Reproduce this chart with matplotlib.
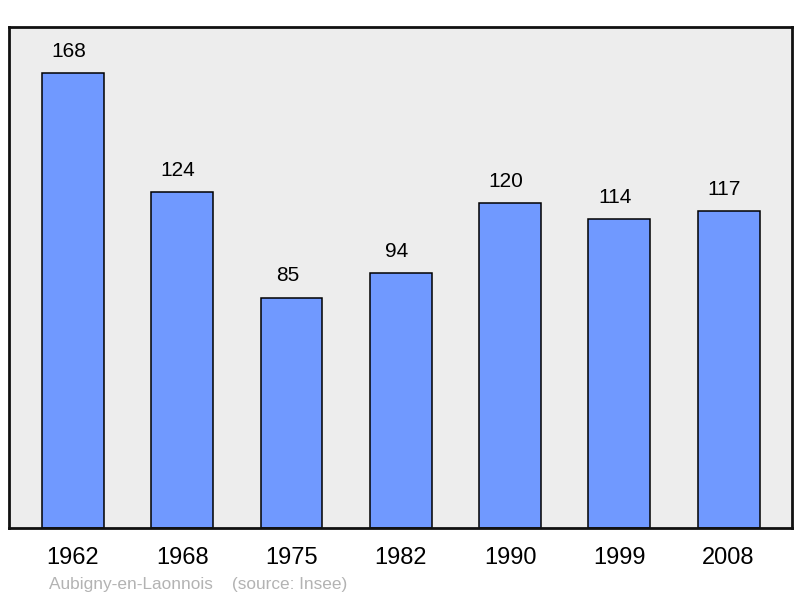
import matplotlib.pyplot as plt
import numpy as np

plt.rcParams['font.family'] = ['Liberation Sans', 'DejaVu Sans']

# data
years = ['1962', '1968', '1975', '1982', '1990', '1999', '2008']
population = [168, 124, 85, 94, 120, 114, 117]

fig = plt.figure(figsize=(8, 5.98), dpi=100)
ax = fig.add_axes([9/800, 1 - 528/598, 783/800, 501/598])
ax.set_facecolor('#ededed')

x = np.arange(len(years))
ax.bar(x, population, width=0.567, color='#7099ff', edgecolor='black', linewidth=1.1, zorder=2)

# value labels sit a little left of the bar centre in the original
for xi, v in zip(x, population):
    ax.annotate(str(v), (xi, v), xytext=(-3, 9), textcoords='offset points',
                ha='center', va='bottom', fontsize=15)

ax.set_xlim(-0.585, len(years) - 1 + 0.58)
ax.set_ylim(0, 185)
ax.set_xticks(x)
ax.set_xticklabels(years, fontsize=17)
ax.tick_params(axis='x', length=0, pad=14)
ax.set_yticks([])
for s in ax.spines.values():
    s.set_linewidth(2)
    s.set_color('#111111')

fig.text(49/800, 1 - 584/598, 'Aubigny-en-Laonnois    (source: Insee)',
         color='#b3b3b3', fontsize=12.4, va='center', ha='left')

fig.savefig('out.png', dpi=100)
